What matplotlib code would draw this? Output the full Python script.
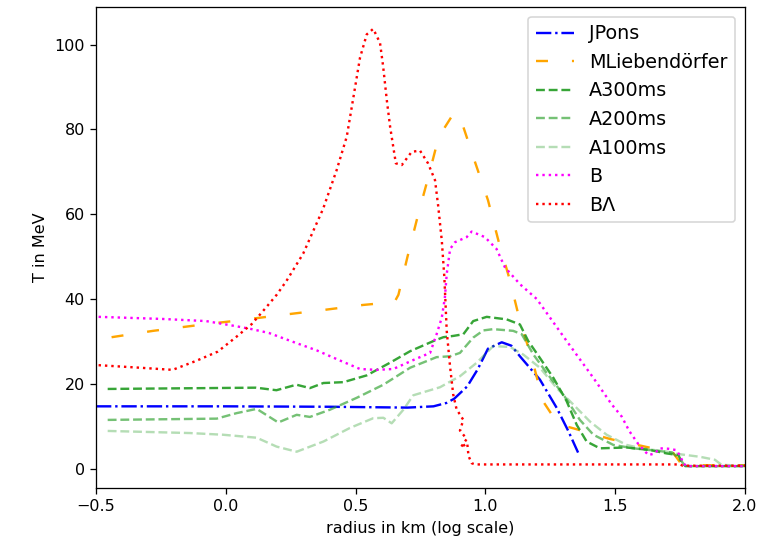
import matplotlib
matplotlib.use("Agg")
import matplotlib.pyplot as plt

# log10 radius (km) and temperature (MeV) for each profile
jpons_x = [-0.5, 0.0, 0.4, 0.7, 0.8, 0.85, 0.88, 0.93, 0.97, 1.01, 1.063, 1.1, 1.133, 1.21, 1.275, 1.32, 1.357]
jpons_y = [14.7, 14.7, 14.6, 14.4, 14.7, 15.5, 16.5, 19.4, 23.4, 28.3, 29.8, 29.0, 26.5, 21.0, 14.3, 8.8, 3.8]

mlieb_x = [-0.44, -0.28, -0.1, 0.055, 0.21, 0.374, 0.528, 0.65, 0.665, 0.70, 0.74, 0.78, 0.82, 0.88,
           0.91, 0.96, 1.01, 1.05, 1.095, 1.133, 1.18, 1.222, 1.28, 1.34, 1.48, 1.63, 1.72, 1.75, 1.76, 2.0]
mlieb_y = [31.0, 32.5, 33.9, 35.0, 36.2, 37.4, 38.6, 39.3, 41.0, 50.0, 59.7, 68.7, 78.2, 84.0,
           81.5, 72.3, 63.3, 53.8, 44.3, 34.8, 25.8, 15.9, 10.5, 9.5, 7.0, 5.0, 4.0, 1.5, 0.8, 0.8]

a300_x = [-0.455, 0.116, 0.195, 0.272, 0.324, 0.376, 0.453, 0.543, 0.633, 0.71, 0.8, 0.838, 0.876, 0.915,
          0.953, 1.005, 1.082, 1.133, 1.165, 1.21, 1.262, 1.313, 1.352, 1.39, 1.441, 1.544, 1.634, 1.698,
          1.743, 1.756, 1.77, 2.0]
a300_y = [18.8, 19.1, 18.5, 19.8, 19.0, 20.2, 20.4, 22.0, 25.0, 27.7, 30.1, 31.0, 31.3, 31.7,
          34.8, 35.8, 35.2, 34.0, 30.1, 26.1, 21.4, 15.9, 10.3, 6.4, 4.8, 5.0, 4.4, 3.6,
          3.2, 1.7, 0.6, 0.6]

a200_x = [-0.455, -0.035, 0.042, 0.119, 0.202, 0.273, 0.324, 0.401, 0.504, 0.607, 0.71, 0.812, 0.864,
          0.902, 0.953, 0.992, 1.03, 1.107, 1.14, 1.185, 1.236, 1.3, 1.364, 1.416, 1.493, 1.57, 1.65,
          1.72, 1.755, 1.77, 2.0]
a200_y = [11.5, 11.8, 13.1, 14.1, 10.9, 12.7, 12.2, 13.9, 16.7, 19.8, 23.8, 26.3, 26.5,
          27.3, 30.9, 32.6, 32.9, 32.5, 31.7, 26.9, 22.6, 17.5, 11.5, 8.0, 5.6, 4.8, 4.3,
          3.8, 1.8, 0.6, 0.6]

a100_x = [-0.455, -0.138, -0.01, 0.119, 0.196, 0.273, 0.376, 0.478, 0.568, 0.607, 0.639, 0.684, 0.722,
          0.825, 0.902, 0.967, 1.03, 1.095, 1.146, 1.21, 1.275, 1.339, 1.403, 1.467, 1.544, 1.6, 1.7,
          1.75, 1.827, 1.884, 1.91, 2.0]
a100_y = [8.9, 8.4, 8.0, 7.3, 5.2, 4.0, 6.4, 9.6, 11.9, 12.0, 10.7, 13.9, 17.3,
          19.2, 21.8, 25.0, 28.9, 28.7, 26.9, 23.8, 19.0, 15.1, 11.1, 8.0, 5.6, 4.8, 4.0,
          3.4, 2.8, 2.1, 0.9, 0.7]

b_x = [-0.49, -0.243, -0.076, 0.039, 0.1, 0.166, 0.259, 0.35, 0.44, 0.517, 0.581, 0.645, 0.729, 0.787,
       0.812, 0.832, 0.844, 0.851, 0.864, 0.883, 0.928, 0.947, 0.998, 1.043, 1.075, 1.133, 1.198,
       1.313, 1.416, 1.486, 1.525, 1.554, 1.589, 1.628, 1.653, 1.67, 1.705, 1.734, 1.75, 1.762, 1.775, 2.0]
b_y = [35.8, 35.3, 34.8, 33.6, 32.9, 32.0, 29.9, 27.9, 25.5, 23.5, 23.3, 23.5, 25.8, 27.3,
       31.7, 35.6, 40.4, 45.9, 51.8, 53.4, 54.6, 55.9, 54.6, 51.8, 47.5, 43.5, 40.0,
       30.1, 21.4, 15.2, 12.3, 8.9, 5.8, 3.2, 3.6, 4.8, 4.7, 4.4, 3.1, 1.3, 0.6, 0.6]

bl_x = [-0.49, -0.33, -0.205, -0.115, -0.031, 0.039, 0.10, 0.155, 0.196, 0.234, 0.298, 0.375, 0.427,
        0.466, 0.49, 0.517, 0.543, 0.568, 0.594, 0.606, 0.62, 0.633, 0.645, 0.655, 0.678, 0.716, 0.748,
        0.779, 0.806, 0.818, 0.832, 0.842, 0.851, 0.864, 0.876, 0.889, 0.915, 0.902, 0.928, 0.905,
        0.93, 0.935, 0.947, 0.96, 1.2, 1.5, 1.75, 1.76, 2.0]
bl_y = [24.4, 23.8, 23.3, 25.4, 27.6, 31.0, 34.1, 38.0, 41.0, 44.3, 50.7, 61.3, 70.4,
        78.3, 87.0, 96.9, 102.4, 103.7, 100.4, 94.9, 87.0, 80.6, 75.9, 72.0, 71.6, 74.7, 75.0,
        72.0, 68.0, 62.0, 53.8, 45.0, 32.5, 24.0, 17.5, 14.0, 11.5, 9.0, 7.0, 5.0,
        6.0, 3.0, 1.3, 1.0, 1.0, 1.0, 1.0, 0.7, 0.7]

DPI = 115
fig = plt.figure(figsize=(767 / DPI, 547 / DPI), dpi=DPI)
ax = fig.add_axes([96 / 767, 1 - 488 / 547, (745 - 96) / 767, (488 - 7) / 547])

ax.plot(jpons_x, jpons_y, color="blue", linestyle="-.", label="JPons")
ax.plot(mlieb_x, mlieb_y, color="orange", linestyle=(0, (5, 10)), label="MLiebendörfer")
ax.plot(a300_x, a300_y, color="tab:green", alpha=0.95, linestyle="--", label="A300ms")
ax.plot(a200_x, a200_y, color="tab:green", alpha=0.65, linestyle="--", label="A200ms")
ax.plot(a100_x, a100_y, color="tab:green", alpha=0.35, linestyle="--", label="A100ms")
ax.plot(b_x, b_y, color="magenta", linestyle=":", label="B")
ax.plot(bl_x, bl_y, color="red", linestyle=":", label="BΛ")

ax.set_xlim(-0.5, 2.0)
ax.set_xlabel("radius in km (log scale)")
ax.set_ylabel("T in MeV")
ax.legend(loc="upper right", fontsize=12)

fig.savefig("out.png", dpi=DPI)
